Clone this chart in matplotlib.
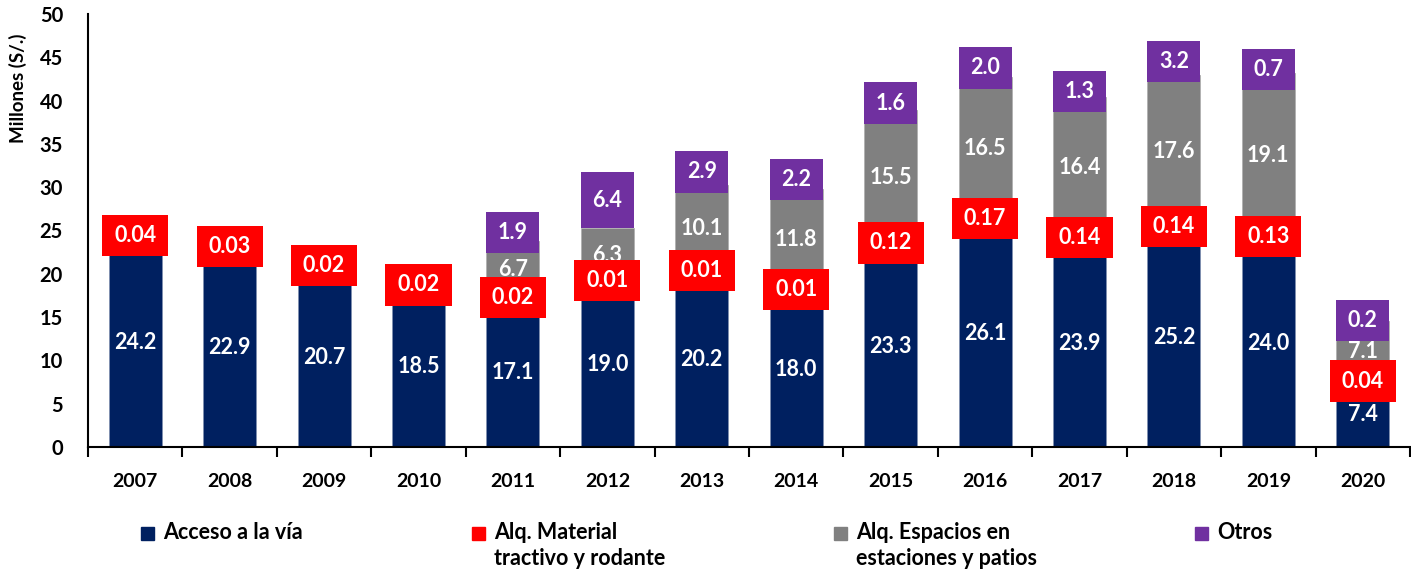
import numpy as np
import matplotlib
matplotlib.use("Agg")
import matplotlib.pyplot as plt
from matplotlib.patches import Rectangle

plt.rcParams["font.family"] = ["Lato", "DejaVu Sans"]
plt.rcParams["font.weight"] = "bold"

# Data (millones S/.)
years = ["2007", "2008", "2009", "2010", "2011", "2012", "2013",
         "2014", "2015", "2016", "2017", "2018", "2019", "2020"]
acceso = [24.2, 22.9, 20.7, 18.5, 17.1, 19.0, 20.2, 18.0, 23.3, 26.1, 23.9, 25.2, 24.0, 7.4]
material = [0.04, 0.03, 0.02, 0.02, 0.02, 0.01, 0.01, 0.01, 0.12, 0.17, 0.14, 0.14, 0.13, 0.04]
espacios = [0, 0, 0, 0, 6.7, 6.3, 10.1, 11.8, 15.5, 16.5, 16.4, 17.6, 19.1, 7.1]
otros = [0, 0, 0, 0, 1.9, 6.4, 2.9, 2.2, 1.6, 2.0, 1.3, 3.2, 0.7, 0.2]

legend_labels = ["Acceso a la vía", "Alq. Material\ntractivo y rodante",
                 "Alq. Espacios en\nestaciones y patios", "Otros"]

c_navy = "#002060"
c_red = "#FF0000"
c_grey = "#808080"
c_purple = "#7030A0"

fig = plt.figure(figsize=(14.11, 5.76), dpi=100)
ax = fig.add_axes([88 / 1411, 129 / 576, 1322 / 1411, 433 / 576])

x = np.arange(len(years))
acceso = np.array(acceso)
material = np.array(material)
espacios = np.array(espacios)
otros = np.array(otros)
w = 0.56

b1 = acceso
b2 = b1 + material
b3 = b2 + espacios

ax.bar(x, acceso, w, color=c_navy, edgecolor="#8090b0", linewidth=0.6)
ax.bar(x, material, w, bottom=b1, color=c_red)
ax.bar(x, espacios, w, bottom=b2, color=c_grey, edgecolor="#b0b0b0", linewidth=0.6)
ax.bar(x, otros, w, bottom=b3, color=c_purple)

# label boxes (fixed size, centred on the segment)
box_h = 4.75
lab_kw = dict(ha="center", va="center", color="white", fontsize=15.5, fontweight="bold")
for i in range(len(x)):
    ax.text(x[i], acceso[i] / 2, f"{acceso[i]:.1f}", **lab_kw)
    if espacios[i] > 0:
        ax.text(x[i], b2[i] + espacios[i] / 2, f"{espacios[i]:.1f}", **lab_kw)
    if otros[i] > 0:
        cy = b3[i] + otros[i] / 2
        ax.bar(x[i], box_h, w, bottom=cy - box_h / 2, color=c_purple)
        ax.text(x[i], cy, f"{otros[i]:.1f}", **lab_kw)
    cy = b1[i] + material[i] / 2 + 0.2
    ax.bar(x[i], box_h, 0.70, bottom=cy - box_h / 2, color=c_red, zorder=3)
    ax.text(x[i], cy, f"{material[i]:.2f}", zorder=4, **lab_kw)

ax.set_xlim(-0.5, len(x) - 0.5)
ax.set_ylim(0, 50)
ax.set_yticks(np.arange(0, 51, 5))
ax.tick_params(axis="y", length=0, pad=18, labelsize=14.5)
ax.set_xticks(x)
ax.set_xticklabels(years)
ax.set_xticks(np.arange(-0.5, len(x), 1), minor=True)
ax.tick_params(axis="x", which="major", length=0, pad=19, labelsize=14)
ax.tick_params(axis="x", which="minor", length=7, width=1.5, direction="out")
for lbl in ax.get_xticklabels() + ax.get_yticklabels():
    lbl.set_fontweight("bold")
for s in ["top", "right"]:
    ax.spines[s].set_visible(False)
for s in ["left", "bottom"]:
    ax.spines[s].set_linewidth(1.5)

fig.text(18 / 1411, 1 - 88 / 576, "Millones (S/.)", rotation=90, ha="center",
         va="center", fontsize=13.5, fontweight="bold")

# legend
leg_x = [141, 472, 834, 1195]
leg_c = [c_navy, c_red, c_grey, c_purple]
for lx, lc, lt in zip(leg_x, leg_c, legend_labels):
    fig.patches.append(Rectangle((lx / 1411, 1 - 540 / 576), 13 / 1411, 13 / 576,
                                 transform=fig.transFigure, color=lc))
    fig.text((lx + 22) / 1411, 1 - 522 / 576, lt, ha="left", va="top",
             fontsize=15.5, fontweight="bold", linespacing=1.3)

fig.savefig("out.png", dpi=100)
